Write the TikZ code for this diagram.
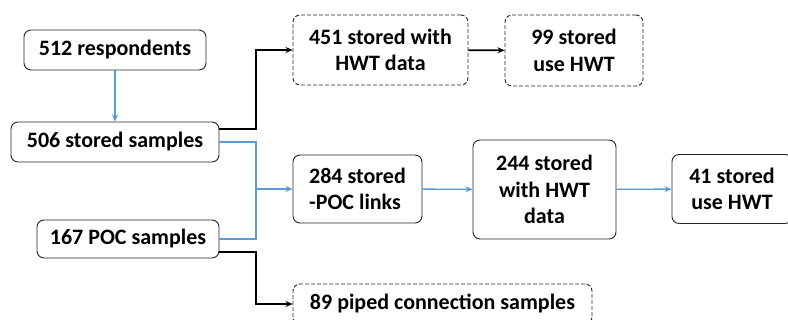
\documentclass[tikz,border=0pt]{standalone}
\usepackage{fontspec}
\setmainfont{Carlito}
\usetikzlibrary{arrows.meta}

\definecolor{linkblue}{HTML}{5B9BD5}
\tikzstyle{block} = [rectangle, draw=black!85, fill=white, align=center, rounded corners=7pt, line width=0.9pt, inner sep=0pt, font=\bfseries\fontsize{22}{26.5}\selectfont]
\tikzstyle{dblock} = [block, dash pattern=on 4pt off 2pt]
\tikzstyle{arrow} = [line width=1.6pt, -{Stealth[length=7pt,width=6pt]}]
\tikzstyle{bline} = [line width=1.4pt, linkblue]
\tikzstyle{barrow} = [bline, -{Stealth[length=7pt,width=6pt]}]

\begin{document}
\begin{tikzpicture}[x=1pt, y=1pt]
                \useasboundingbox (0,0) rectangle (788,320);
                \node (resp) [block, minimum width=182pt, minimum height=40pt] at (115,270) {512 respondents};
                \node (stored) [block, minimum width=208pt, minimum height=40pt] at (115,178) {506 stored samples};
                \node (poc) [block, minimum width=182pt, minimum height=38pt] at (128,81) {167 POC samples};
                \node (hwtall) [dblock, minimum width=175pt, minimum height=70pt] at (380.5,270) {451 stored with\\HWT data};
                \node (useall) [dblock, minimum width=138pt, minimum height=71pt] at (574,269.5) {99 stored\\use HWT};
                \node (links) [block, align=left, minimum width=129pt, minimum height=68pt] at (357.5,131) {284 stored\\-POC links};
                \node (hwtlink) [block, minimum width=143pt, minimum height=99pt] at (544.5,130.5) {244 stored\\with HWT\\data};
                \node (uselink) [block, minimum width=120pt, minimum height=69pt] at (732,131) {41 stored\\use HWT};
                \node (piped) [dblock, minimum width=299pt, minimum height=40pt] at (442.5,16) {89 piped connection samples};
                \coordinate (jx) at (256,0);
    
                \draw [barrow] (resp) -- (stored);
                \draw [arrow] ([yshift=13pt]stored.east) -| (jx |- hwtall.west) -- (hwtall.west);
                \draw [arrow] (hwtall) -- (useall);
                \draw [bline] (stored.east) -| (jx |- poc.east) -- (poc.east);
                \draw [barrow] (jx |- links.west) -- (links.west);
                \draw [barrow] (links) -- (hwtlink);
                \draw [barrow] (hwtlink) -- (uselink);
                \draw [arrow] ([yshift=-13pt]poc.east) -| (jx |- piped.west) -- (piped.west);
            \end{tikzpicture}
\end{document}
